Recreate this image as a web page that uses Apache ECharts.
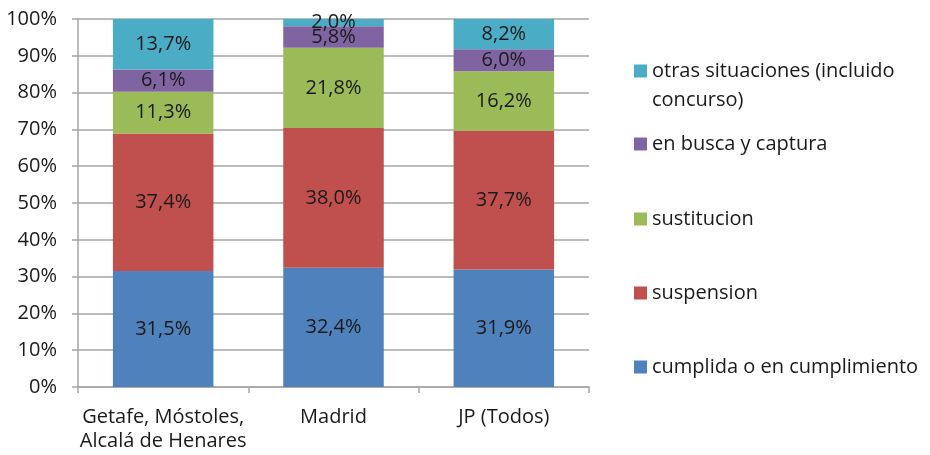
<!DOCTYPE html>
<html>
<head>
<meta charset="utf-8">
<script src="https://cdn.jsdelivr.net/npm/echarts@6/dist/echarts.min.js"></script>
<style>
  html, body { margin: 0; padding: 0; background: #fff; }
  #chart { width: 930px; height: 455px; }
</style>
</head>
<body>
<div id="chart"></div>
<script>
// Categories (two-line labels on the x axis)
const categories = ['Getafe, Móstoles,\nAlcalá de Henares', 'Madrid', 'JP (Todos)'];

// Share of each situation, in percent, per category
const cumplida = [31.5, 32.4, 31.9];
const suspension = [37.4, 38.0, 37.7];
const sustitucion = [11.3, 21.8, 16.2];
const busca = [6.1, 5.8, 6.0];
const otras = [13.7, 2.0, 8.2];

// Series names (stack order: bottom to top)
const seriesNames = [
  'cumplida o en cumplimiento',
  'suspension',
  'sustitucion',
  'en busca y captura',
  'otras situaciones (incluido concurso)'
];
const seriesValues = [cumplida, suspension, sustitucion, busca, otras];
const seriesColors = ['#4F81BD', '#C0504D', '#9BBB59', '#8064A2', '#4BACC6'];

// Y axis ticks
const yTicks = [0, 10, 20, 30, 40, 50, 60, 70, 80, 90, 100];

const FONT = '"Open Sans", sans-serif';
const TEXT = '#1a1a1a';
const GRID = '#a6a6a6';

const fmtPct = v => v.toFixed(1).replace('.', ',') + '%';

const series = seriesNames.map((name, i) => ({
  name: name,
  type: 'bar',
  stack: 'total',
  barCategoryGap: '41%',
  itemStyle: { color: seriesColors[i] },
  label: {
    show: true,
    position: 'inside',
    color: TEXT,
    fontFamily: FONT,
    fontSize: 20,
    formatter: p => fmtPct(p.value)
  },
  emphasis: { disabled: true },
  data: seriesValues[i]
}));

// One legend block per entry, listed top to bottom (reverse of stack order).
// The long entry wraps; a leading blank line keeps its first line level with the swatch.
const legendCenters = [71, 144, 219, 293, 367];
const legendOrder = [4, 3, 2, 1, 0];
const LH = 29;
const LONG = 'otras situaciones (incluido concurso)';
const legends = legendOrder.map((si, k) => {
  const name = seriesNames[si];
  const wrapped = name === LONG;
  return {
    data: [name],
    orient: 'vertical',
    left: 634,
    top: wrapped ? legendCenters[k] - 1.5 * LH : legendCenters[k] - LH / 2,
    padding: 0,
    itemWidth: 13,
    itemHeight: 13,
    itemGap: 0,
    selectedMode: false,
    icon: 'rect',
    formatter: n => n === LONG ? '\notras situaciones (incluido\nconcurso)' : n,
    textStyle: {
      fontFamily: FONT,
      fontSize: 20,
      color: TEXT,
      lineHeight: LH
    }
  };
});

const chart = echarts.init(document.getElementById('chart'), null, { renderer: 'canvas' });
chart.setOption({
  animation: false,
  backgroundColor: '#ffffff',
  legend: legends,
  grid: { left: 78, right: 341, top: 19, bottom: 68, containLabel: false },
  xAxis: {
    type: 'category',
    data: categories,
    axisLine: { show: true, lineStyle: { color: GRID, width: 1.5 } },
    axisTick: { show: true, length: 6, lineStyle: { color: GRID, width: 1.5 } },
    axisLabel: {
      interval: 0,
      fontFamily: FONT,
      fontSize: 20,
      color: TEXT,
      lineHeight: 24,
      margin: 18
    }
  },
  yAxis: {
    type: 'value',
    min: 0,
    max: 100,
    interval: 10,
    axisLine: { show: true, lineStyle: { color: GRID, width: 1.5 } },
    axisTick: { show: true, length: 6, lineStyle: { color: GRID, width: 1.5 } },
    splitLine: { show: true, lineStyle: { color: GRID, width: 1.5 } },
    axisLabel: {
      fontFamily: FONT,
      fontSize: 20,
      color: TEXT,
      margin: 21,
      formatter: v => (yTicks.indexOf(v) >= 0 ? v + '%' : '')
    }
  },
  series: series
});
</script>
</body>
</html>
